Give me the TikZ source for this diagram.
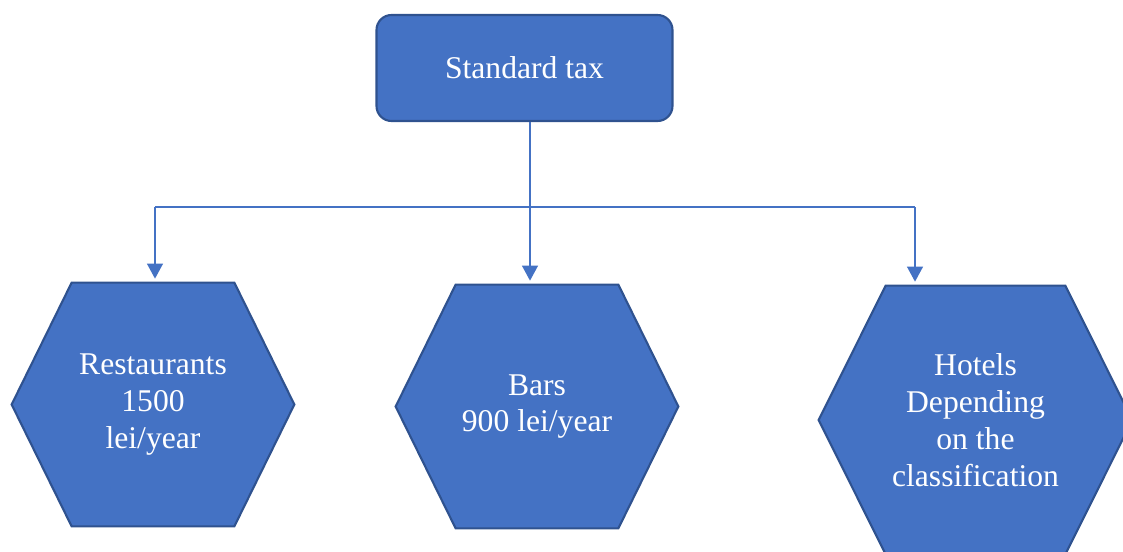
\documentclass[tikz,border=0pt]{standalone}
\usepackage{fontspec}
\setmainfont{Liberation Serif}
\usetikzlibrary{arrows.meta,backgrounds,calc,positioning}
\definecolor{boxfill}{HTML}{4472C4}
\definecolor{boxline}{HTML}{2F528F}

\begin{document}
\begin{tikzpicture}[
	box/.style={draw=boxline,fill=boxfill,line width=1.2pt,rounded corners=0.3cm,text=white,font=\fontsize{18}{21}\selectfont,minimum width=5.92cm,minimum height=2.12cm},
	hexa/.style={inner sep=0pt,align=center,text=white,font=\fontsize{18}{21}\selectfont},
	hexline/.style={draw=boxline,fill=boxfill,line width=1.2pt},
	link/.style={draw=boxfill,line width=0.8pt},
	arrow/.style={link,-{Triangle[width=9pt,length=8.5pt]},shorten >=0.08cm}]
	\useasboundingbox (0,0) rectangle (22.46,-11.02);
	\node[box] (tax) at (10.49,-1.36) {Standard tax};
	\node[hexa,minimum width=5.64cm,minimum height=4.86cm] (rest) at (3.06,-8.09) {Restaurants\\1500\\lei/year};
	\node[hexa,minimum width=5.64cm,minimum height=4.86cm] (bars) at (10.74,-8.13) {Bars\\900 lei/year};
	\node[hexa,minimum width=6.26cm,minimum height=5.36cm] (hotel) at (19.51,-8.40) {Hotels\\Depending\\on the\\classification};
	\begin{scope}[on background layer]
		\foreach \n/\d in {rest/1.2,bars/1.2,hotel/1.34}
			\draw[hexline] ($(\n.north west)+(\d,0)$) -- ($(\n.north east)+(-\d,0)$) -- (\n.east) -- ($(\n.south east)+(-\d,0)$) -- ($(\n.south west)+(\d,0)$) -- (\n.west) -- cycle;
	\end{scope}
	\coordinate (jl) at (3.10,-4.14);
	\coordinate (jm) at (10.6,-4.14);
	\coordinate (jr) at (18.30,-4.14);
	\draw[link] (jm |- tax.south) -- (jm);
	\draw[link] (jl) -- (jr);
	\draw[arrow] (jl) -- (jl |- rest.north);
	\draw[arrow] (jm) -- (jm |- bars.north);
	\draw[arrow] (jr) -- (jr |- hotel.north);
\end{tikzpicture}
\end{document}
